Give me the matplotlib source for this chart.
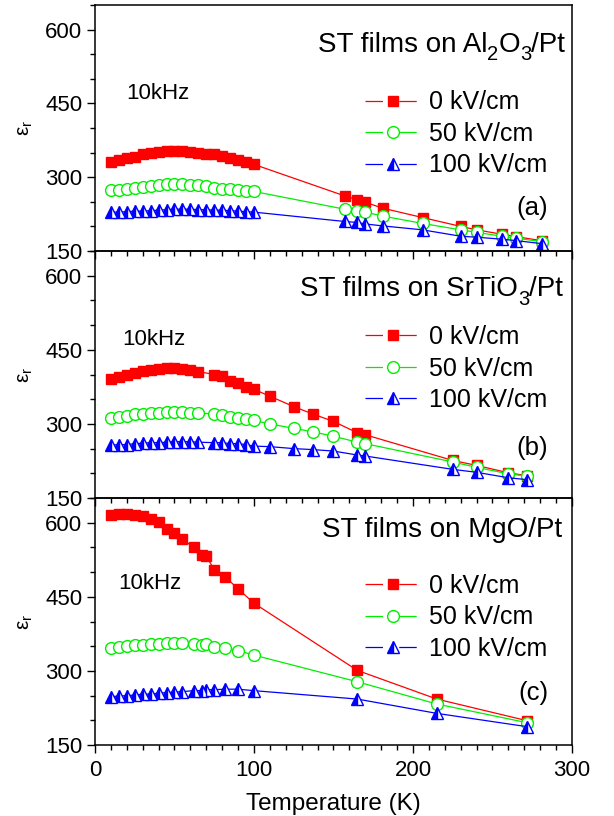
import matplotlib
matplotlib.use("Agg")
import matplotlib.pyplot as plt
from matplotlib.lines import Line2D
from matplotlib.ticker import MultipleLocator

plt.rcParams["font.family"] = ["Liberation Sans", "DejaVu Sans"]
plt.rcParams["mathtext.fontset"] = "custom"
plt.rcParams["mathtext.rm"] = "Liberation Sans"
plt.rcParams["mathtext.it"] = "Liberation Sans:italic"

# ----------------------------------------------------------------------------
# Data (temperature in K, relative permittivity)
# ----------------------------------------------------------------------------
T_a = [10, 15, 20, 25, 30, 35, 40, 45, 50, 55, 60, 65, 70, 75, 80, 85, 90, 95, 100,
       157, 165, 170, 181, 206, 230, 240, 256, 265, 281]
red_a = [330, 334, 338, 342, 347, 350, 352, 353, 354, 353, 352, 350, 348, 347, 343, 338, 334, 330, 326,
         262, 254, 249, 237, 218, 200, 193, 184, 179, 171]
green_a = [273, 274, 276, 279, 281, 283, 284, 286, 286, 286, 284, 284, 283, 279, 277, 276, 274, 272, 271,
           235, 232, 229, 221, 206, 193, 188, 180, 176, 169]
blue_a = [229, 229, 230, 231, 231, 232, 233, 234, 235, 235, 235, 234, 234, 233, 233, 232, 231, 230, 229,
          210, 208, 205, 201, 193, 180, 178, 174, 171, 165]

T_b = [10, 15, 20, 25, 30, 35, 40, 45, 50, 55, 60, 65, 75, 80, 85, 90, 95, 100,
       110, 125, 137, 150, 165, 170, 225, 240, 260, 272]
red_b = [390, 395, 399, 404, 407, 410, 412, 414, 414, 412, 410, 406, 400, 396, 387, 382, 375, 370,
         356, 335, 320, 305, 282, 278, 226, 216, 201, 195]
green_b = [312, 314, 317, 320, 321, 322, 323, 324, 324, 324, 323, 322, 320, 318, 314, 311, 309, 307,
           300, 291, 284, 275, 263, 260, 223, 212, 199, 194]
blue_b = [257, 258, 258, 260, 261, 262, 262, 263, 264, 264, 264, 263, 262, 262, 260, 260, 258, 255,
          254, 250, 248, 245, 237, 235, 208, 202, 191, 187]

T_c = [10, 15, 20, 25, 30, 35, 40, 45, 50, 55, 62, 67, 70, 75, 82, 90, 100, 165, 215, 272]
red_c = [616, 618, 618, 616, 614, 608, 601, 588, 579, 567, 550, 535, 532, 505, 490, 466, 437, 301, 243, 199]
green_c = [347, 349, 351, 352, 353, 354, 355, 356, 356, 356, 355, 353, 355, 349, 347, 341, 332, 278, 233, 195]
blue_c = [248, 249, 250, 251, 253, 253, 255, 256, 257, 258, 260, 260, 262, 262, 263, 263, 260, 243, 214, 187]

FIELDS = ["0 kV/cm", "50 kV/cm", "100 kV/cm"]
# title pieces: (text, is_subscript)
TITLES = [
    [("ST films on Al", False), ("2", True), ("O", False), ("3", True), ("/Pt", False)],
    [("ST films on SrTiO", False), ("3", True), ("/Pt", False)],
    [("ST films on MgO/Pt", False)],
]
TAGS = ["(a)", "(b)", "(c)"]
PANELS = [
    (T_a, red_a, green_a, blue_a),
    (T_b, red_b, green_b, blue_b),
    (T_c, red_c, green_c, blue_c),
]

# ----------------------------------------------------------------------------
# Styles and layout
# ----------------------------------------------------------------------------
RED, GREEN, BLUE = "#ff0000", "#00ee00", "#0000ff"
STYLES = [
    dict(color=RED, marker="s", ms=7.5, mfc=RED, mec=RED),
    dict(color=GREEN, marker="o", ms=8.5, mfc="white", mec=GREEN, mew=1.0),
    dict(color=BLUE, marker="^", ms=9, mfc=BLUE, mec=BLUE, fillstyle="left",
         markerfacecoloralt="white", mew=1.0),
]
TITLE_X = [0.467, 0.43, 0.475]
TITLE_Y = [0.81, 0.816, 0.843]
TAG_Y = [0.175, 0.204, 0.21]
LEG_TOP = [0.653, 0.70, 0.693]
KHZ_XY = [(0.066, 0.642), (0.058, 0.641), (0.049, 0.655)]
TITLE_FS, SUB_FS, SUB_DROP = 20, 14.5, 4.5


def chained_title(ax, x, y, parts):
    """Draw a title piece by piece so subscripts are lowered digits."""
    first = ax.text(x, y, parts[0][0], transform=ax.transAxes, ha="left",
                    va="baseline", fontsize=TITLE_FS)
    prev = first
    for s, sub in parts[1:]:
        prev = ax.annotate(s, xy=(1, 0), xycoords=(prev, first),
                           xytext=(0, -SUB_DROP if sub else 0), textcoords="offset points",
                           ha="left", va="bottom", fontsize=SUB_FS if sub else TITLE_FS)


fig = plt.figure(figsize=(6.14, 8.16), dpi=100)
left, width = 0.1547, 0.7769
bottoms = [0.6924, 0.3897, 0.0870]
heights = [0.3015, 0.3027, 0.3027]

for i, (T, r, g, b) in enumerate(PANELS):
    ax = fig.add_axes([left, bottoms[i], width, heights[i]])
    ax.set_facecolor("none")
    for series, st in zip((r, g, b), STYLES):
        ax.plot(T, series, lw=0.9, **st)

    ax.set_xlim(0, 300)
    ax.set_ylim(150, 650)
    ax.xaxis.set_major_locator(MultipleLocator(100))
    ax.xaxis.set_minor_locator(MultipleLocator(10))
    ax.yaxis.set_major_locator(MultipleLocator(150))
    ax.yaxis.set_minor_locator(MultipleLocator(50))
    ax.tick_params(which="major", direction="out", length=6, width=1, labelsize=16, pad=3)
    ax.tick_params(axis="x", which="major", pad=4.5)
    ax.tick_params(which="minor", direction="out", length=3.6, width=1)
    for sp in ax.spines.values():
        sp.set_linewidth(1.1)
    if i < 2:
        ax.tick_params(labelbottom=False)
    else:
        ax.set_xlabel("Temperature (K)", fontsize=17.5, labelpad=9)

    ax.set_ylabel(r"ε$_\mathrm{r}$", fontsize=15)
    ax.yaxis.set_label_coords(-0.125, 0.5)

    chained_title(ax, TITLE_X[i], TITLE_Y[i], TITLES[i])
    ax.text(KHZ_XY[i][0], KHZ_XY[i][1], "10kHz", transform=ax.transAxes,
            ha="left", va="center", fontsize=16)
    ax.text(0.95, TAG_Y[i], TAGS[i], transform=ax.transAxes, ha="right",
            va="center", fontsize=18.5)

    # legend handles: broken line with the marker in the gap
    handles = []
    for st in STYLES:
        ln = Line2D([], [], color=st["color"], lw=0.9, linestyle=(0, (14, 13)))
        mk = Line2D([], [], linestyle="none", **{k: v for k, v in st.items() if k != "color"},
                    color=st["color"])
        handles.append((ln, mk))
    ax.legend(handles, FIELDS, loc="upper left", bbox_to_anchor=(0.566, LEG_TOP[i]),
              frameon=False, fontsize=18, handlelength=2.27, handletextpad=0.3,
              labelspacing=0.30, borderpad=0, borderaxespad=0, numpoints=1)

fig.savefig("out.png", dpi=100)
